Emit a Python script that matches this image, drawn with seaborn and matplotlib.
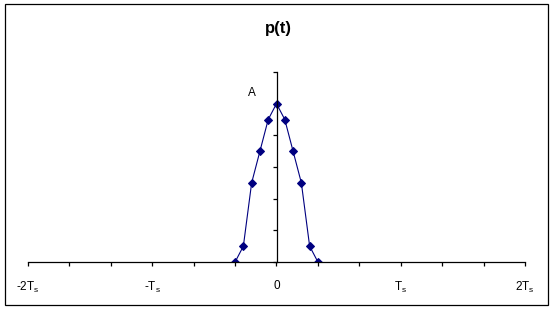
import matplotlib
matplotlib.use("Agg")
import matplotlib.pyplot as plt
from matplotlib.patches import Rectangle
import seaborn as sns
import pandas as pd
import numpy as np

# Data (t in units of Ts)
t_vals = [-5/15, -4/15, -3/15, -2/15, -1/15, 0, 1/15, 2/15, 3/15, 4/15, 5/15]
p_vals = [0.0, 0.1, 0.5, 0.7, 0.9, 1.0, 0.9, 0.7, 0.5, 0.1, 0.0]
xtick_pos = [-2, -1, 0, 1, 2]
xtick_labels = ["-2T$_s$", "-T$_s$", "0", "T$_s$", "2T$_s$"]
title = "p(t)"

sns.set_style("white")
plt.rcParams["font.family"] = ["Liberation Sans", "DejaVu Sans"]
plt.rcParams["mathtext.fontset"] = "custom"
plt.rcParams["mathtext.rm"] = "Liberation Sans"
plt.rcParams["mathtext.it"] = "Liberation Sans"
plt.rcParams["mathtext.default"] = "regular"
plt.rcParams["text.color"] = "black"
plt.rcParams["xtick.color"] = "black"
plt.rcParams["ytick.color"] = "black"

fig = plt.figure(figsize=(5.54, 3.09), dpi=100)
W, H = 554, 309
ax = fig.add_axes([28/W, 1-262/H, (525-28)/W, (262-72)/H])

df = pd.DataFrame({"t": t_vals, "p": p_vals})
sns.lineplot(data=df, x="t", y="p", ax=ax, color="#000080", marker="D",
             markersize=3.6, markeredgecolor="#000080", linewidth=0.8)

ax.set_xlim(-2, 2)
ax.set_ylim(0, 1.2)
ax.set_xlabel("")
ax.set_ylabel("")

for s in ["top", "right"]:
    ax.spines[s].set_visible(False)
ax.spines["left"].set_position(("data", 0))
ax.spines["left"].set_color("black")
ax.spines["bottom"].set_color("black")
ax.spines["left"].set_linewidth(0.9)
ax.spines["bottom"].set_linewidth(0.9)

ticks = np.arange(-2, 2.001, 1/3)
ax.set_xticks(ticks)
labels = []
for v in ticks:
    r = round(v)
    if abs(v - r) < 1e-6:
        labels.append(xtick_labels[xtick_pos.index(r)])
    else:
        labels.append("")
ax.set_xticklabels(labels)
ax.set_yticks(np.arange(0, 1.2001, 0.2))
ax.set_yticklabels([])
ax.tick_params(axis="x", direction="out", length=3, width=0.9, color="black",
               pad=10, labelsize=8.5, labelcolor="black", bottom=True)
ax.tick_params(axis="y", direction="out", length=3, width=0.9, color="black",
               left=True)

ax.text(-0.2, 1.07, "A", fontsize=8.5, ha="center", va="center", color="black")

fig.text(278/W, 1-28/H, title, fontsize=12, fontweight="bold",
         ha="center", va="center", color="black")

fig.patches.append(Rectangle((5/W, 4/H), (548-5)/W, (305-4)/H,
                             transform=fig.transFigure, fill=False,
                             edgecolor="black", linewidth=0.9))

fig.savefig("out.png", dpi=100)
